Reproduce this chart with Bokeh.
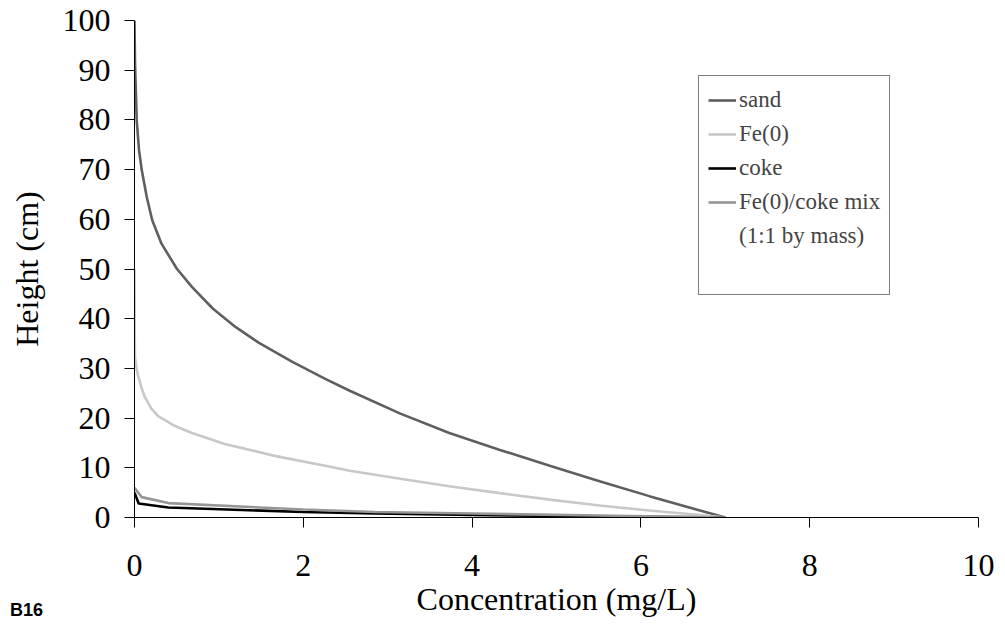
from bokeh.plotting import figure
from bokeh.models import Range1d, FixedTicker, Legend, LegendItem, Div
from bokeh.layouts import column
from bokeh.embed import file_html
from bokeh.resources import INLINE

# ---- data ----
sand_x = [0, 0.006, 0.026, 0.053, 0.085, 0.145, 0.21, 0.32, 0.5, 0.68, 0.93, 1.2, 1.47,
          1.86, 2.26, 2.55, 3.15, 3.73, 4.33, 4.92, 5.51, 6.1, 6.7, 7.0]
sand_y = [100, 91.5, 80, 74, 70, 64.5, 59.8, 55.1, 50.1, 46.4, 42.0, 38.3, 35.2,
          31.4, 27.9, 25.5, 20.9, 17.0, 13.6, 10.4, 7.3, 4.3, 1.4, 0]

fe_x = [0, 0.003, 0.006, 0.026, 0.045, 0.085, 0.12, 0.2, 0.28, 0.48, 0.68, 1.07, 1.66,
        2.26, 2.55, 3.15, 3.73, 4.33, 4.92, 5.51, 6.1, 6.7, 7.0]
fe_y = [50, 36, 32.3, 29.8, 28.4, 26.0, 24.3, 21.9, 20.4, 18.4, 17.0, 14.8, 12.4,
        10.4, 9.4, 7.8, 6.3, 4.9, 3.6, 2.4, 1.4, 0.5, 0]

coke_x = [0, 0.05, 0.4, 2.0, 2.85, 4.0, 5.5, 7.0]
coke_y = [5.0, 2.8, 2.0, 1.1, 0.8, 0.5, 0.25, 0]

mix_x = [0, 0.085, 0.4, 2.0, 2.85, 4.0, 5.5, 7.0]
mix_y = [6.0, 4.1, 2.9, 1.6, 1.1, 0.8, 0.4, 0]

series_names = ["sand", "Fe(0)", "coke", "Fe(0)/coke mix"]
series_colors = ["#5f5f5f", "#c8c8c8", "#000000", "#969696"]
x_ticks = [0, 2, 4, 6, 8, 10]
y_ticks = [0, 10, 20, 30, 40, 50, 60, 70, 80, 90, 100]

SERIF = "Liberation Serif"

p = figure(width=1000, height=629, output_backend="svg", toolbar_location=None,
           x_range=Range1d(0, 10), y_range=Range1d(0, 100),
           min_border_left=134, min_border_right=22, min_border_top=20,
           min_border_bottom=112)
p.outline_line_color = None
p.grid.visible = False
p.background_fill_color = "white"
p.border_fill_color = "white"

lines = []
for xs, ys, name, col in zip([sand_x, fe_x, coke_x, mix_x], [sand_y, fe_y, coke_y, mix_y],
                             series_names, series_colors):
    r = p.line(xs, ys, line_color=col, line_width=2.6)
    lines.append(r)

# invisible renderer for the extra legend rows
dummy = p.line([0, 0], [0, 0], line_alpha=0)

items = [LegendItem(label=n, renderers=[r]) for n, r in zip(series_names, lines)]
items.append(LegendItem(label="(1:1 by mass)", renderers=[dummy]))
items.append(LegendItem(label=" ", renderers=[dummy]))

legend = Legend(items=items, location=(564, 222))
legend.label_text_font = SERIF
legend.label_text_font_size = "23px"
legend.label_height = 30
legend.glyph_height = 30
legend.glyph_width = 28
legend.label_standoff = 3
legend.spacing = 4
legend.padding = 9
legend.margin = 0
legend.border_line_color = "black"
legend.border_line_width = 1
legend.background_fill_color = "white"
legend.background_fill_alpha = 1
p.add_layout(legend)

for ax in (p.xaxis[0], p.yaxis[0]):
    ax.axis_line_color = "black"
    ax.axis_line_width = 1
    ax.major_tick_line_color = "black"
    ax.major_tick_out = 10
    ax.major_tick_in = 0
    ax.minor_tick_line_color = None
    ax.major_label_text_font = SERIF
    ax.major_label_text_font_size = "32px"
    ax.major_label_text_color = "black"
    ax.axis_label_text_font = SERIF
    ax.axis_label_text_font_size = "32px"
    ax.axis_label_text_font_style = "normal"
    ax.axis_label_text_color = "black"

p.xaxis.ticker = FixedTicker(ticks=x_ticks)
p.yaxis.ticker = FixedTicker(ticks=y_ticks)
p.xaxis.axis_label = "Concentration (mg/L)"
p.yaxis.axis_label = "Height (cm)"
p.xaxis.major_label_standoff = 27
p.xaxis.axis_label_standoff = 2
p.yaxis.major_label_standoff = 14
p.yaxis.axis_label_standoff = 15

note = Div(text='<span style="font-family: \'Liberation Sans\', Arial, sans-serif; '
                'font-weight: bold; font-size: 18px; line-height: 20px; color: black;">B16</span>',
           width=60, height=20, margin=(-29, 0, 0, 10))

layout = column(p, note, spacing=0)

open("out.html", "w").write(file_html(layout, INLINE))
